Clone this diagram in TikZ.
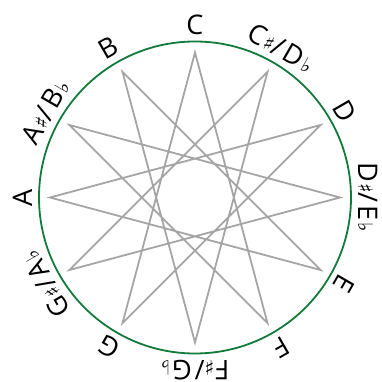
\documentclass[tikz,border=0pt]{standalone}
\usepackage{fontspec}
\setmainfont{Open Sans}
\newfontfamily\symfont{DejaVu Sans}
\newcommand\shp{{\symfont\fontsize{20}{20}\selectfont\kern1pt♯}}
\newcommand\flt{{\symfont\fontsize{20}{20}\selectfont\kern2pt♭}}
\definecolor{ringgreen}{RGB}{18,122,58}
\definecolor{stargrey}{RGB}{165,165,165}
\begin{document}
\begin{tikzpicture}[x=1pt,y=1pt,
  ring/.style={draw=ringgreen,line width=1.8pt},
  starline/.style={draw=stargrey,line width=1.8pt,line join=miter},
  note/.style={font=\fontsize{27}{27}\selectfont,anchor=base,inner sep=0pt}]
\useasboundingbox (0,0) rectangle (381,382);
\coordinate (O) at (195,184.5);
\draw[ring] (O) circle (156);
\foreach \k in {0,...,11}{
  \path (O) ++({90-30*\k}:145) coordinate (v\k);
}
\draw[starline] (v0) -- (v5) -- (v10) -- (v3) -- (v8) -- (v1) -- (v6) -- (v11) -- (v4) -- (v9) -- (v2) -- (v7) -- cycle;
\foreach \k/\t in {0/C,1/{C\shp/\kern3pt D\flt},2/D,3/{D\shp/\kern3pt E\flt},4/E,5/F,6/{F\shp/\kern3pt G\flt},7/G,8/{G\shp/\kern3pt A\flt},9/A,10/{A\shp/\kern3pt B\flt},11/B}{
  \path (O) ++({90-30*\k}:163) node[note,rotate={-30*\k}] (n\k) {\t};
}
\end{tikzpicture}
\end{document}
